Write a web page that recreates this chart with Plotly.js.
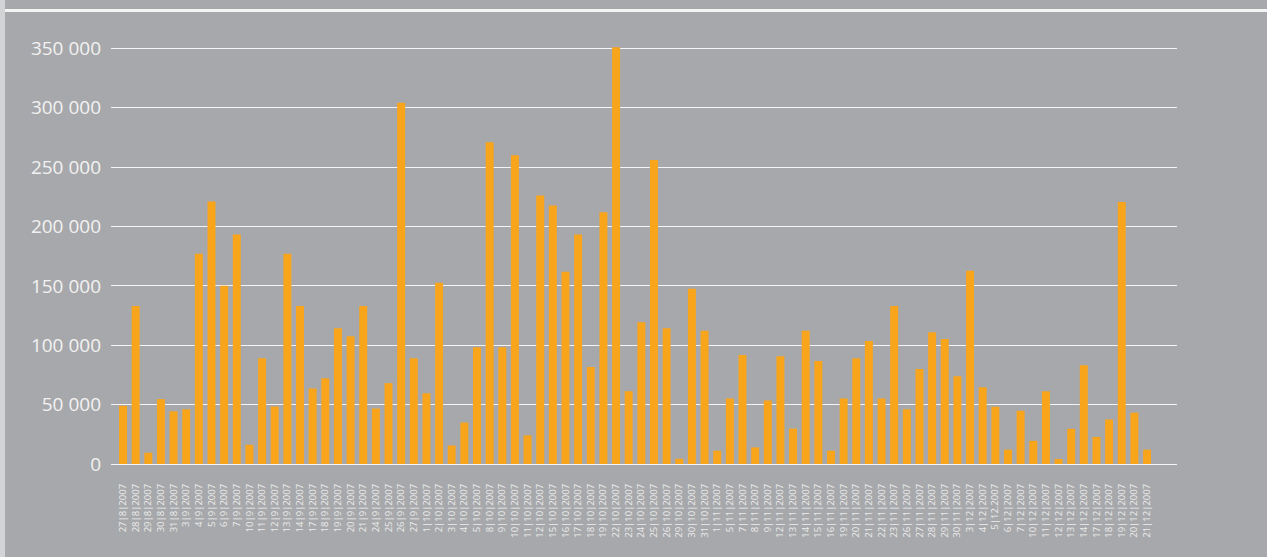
<!DOCTYPE html>
<html>
<head>
<meta charset="utf-8">
<script src="https://cdn.plot.ly/plotly-3.0.1.min.js"></script>
<style>
  html, body { margin: 0; padding: 0; background: #a7a8ab; overflow: hidden; }
  #chart { width: 1267px; height: 557px; position: absolute; left: 0; top: 0; }
  #leftstrip { position: absolute; left: 0; top: 0; width: 5px; height: 557px; background: #d3d4d6; z-index: 5; }
  #topline { position: absolute; left: 5px; top: 9px; width: 1262px; height: 3px; background: #f4f4f4; z-index: 5; }
</style>
</head>
<body>
<div id="chart"></div>
<div id="leftstrip"></div>
<div id="topline"></div>
<script>
const dates = [
  "27|8|2007","28|8|2007","29|8|2007","30|8|2007","31|8|2007",
  "3|9|2007","4|9|2007","5|9|2007","6|9|2007","7|9|2007",
  "10|9|2007","11|9|2007","12|9|2007","13|9|2007","14|9|2007",
  "17|9|2007","18|9|2007","19|9|2007","20|9|2007","21|9|2007",
  "24|9|2007","25|9|2007","26|9|2007","27|9|2007",
  "1|10|2007","2|10|2007","3|10|2007","4|10|2007","5|10|2007",
  "8|10|2007","9|10|2007","10|10|2007","11|10|2007","12|10|2007",
  "15|10|2007","16|10|2007","17|10|2007","18|10|2007","19|10|2007",
  "22|10|2007","23|10|2007","24|10|2007","25|10|2007","26|10|2007",
  "29|10|2007","30|10|2007","31|10|2007","1|11|2007",
  "5|11|2007","7|11|2007","8|11|2007","9|11|2007",
  "12|11|2007","13|11|2007","14|11|2007","15|11|2007","16|11|2007",
  "19|11|2007","20|11|2007","21|11|2007","22|11|2007","23|11|2007",
  "26|11|2007","27|11|2007","28|11|2007","29|11|2007","30|11|2007",
  "3|12|2007","4|12|2007","5|12.2007","6|12|2007","7|12|2007",
  "10|12|2007","11|12|2007","12|12|2007","13|12|2007","14|12|2007",
  "17|12|2007","18|12|2007","19|12|2007","20|12|2007","21|12|2007"
];
const volumes = [
  49000,133000,9500,54600,44400,
  46100,177000,221000,150000,193300,
  16200,89000,48400,177000,133000,
  63600,72100,114400,107600,133000,
  46700,68100,304200,89000,
  59600,152700,15600,34900,98300,
  271000,98300,259900,24100,226000,
  217600,161800,193300,81600,211900,
  351000,61300,119400,256000,114400,
  4400,147600,112100,11200,
  55200,91800,14000,53500,
  90700,29800,112100,86700,11200,
  55200,89000,103600,55200,133000,
  46100,80000,111000,105300,73800,
  162700,64600,48200,12100,44800,
  19500,61200,4200,29600,83200,
  22800,37500,220500,43200,12100
];
const yTicks = [0,50000,100000,150000,200000,250000,300000,350000];
const yTickText = ["0","50 000","100 000","150 000","200 000","250 000","300 000","350 000"];

const trace = {
  type: "bar",
  x: dates,
  y: volumes,
  marker: { color: "#f9a51c", line: { width: 0 } },
  hoverinfo: "x+y"
};

const layout = {
  width: 1267,
  height: 557,
  paper_bgcolor: "#a7a8ab",
  plot_bgcolor: "#a7a8ab",
  margin: { l: 111, r: 90, t: 40, b: 92.5, pad: 0 },
  bargap: 0.37,
  showlegend: false,
  font: { family: "Open Sans, sans-serif", color: "#f2f2f2" },
  xaxis: {
    type: "category",
    range: [-0.95, 83.37],
    tickmode: "linear",
    tick0: 0,
    dtick: 1,
    tickangle: -90,
    tickfont: { size: 9.5, color: "#ececec", family: "Liberation Sans Narrow, Open Sans, sans-serif" },
    showgrid: false,
    showline: false,
    zeroline: false,
    ticks: "",
    ticklabelstandoff: 17,
    automargin: false
  },
  yaxis: {
    range: [0, 357000],
    tickvals: yTicks,
    ticktext: yTickText,
    tickfont: { size: 19, color: "#f2f2f2", family: "Open Sans, sans-serif" },
    showgrid: true,
    gridcolor: "#f4f4f4",
    gridwidth: 1,
    zeroline: true,
    zerolinecolor: "#f4f4f4",
    zerolinewidth: 1,
    showline: false,
    ticks: "",
    ticklabelstandoff: 9,
    automargin: false
  }
};

Plotly.newPlot("chart", [trace], layout, { displayModeBar: false, staticPlot: true });
</script>
</body>
</html>
